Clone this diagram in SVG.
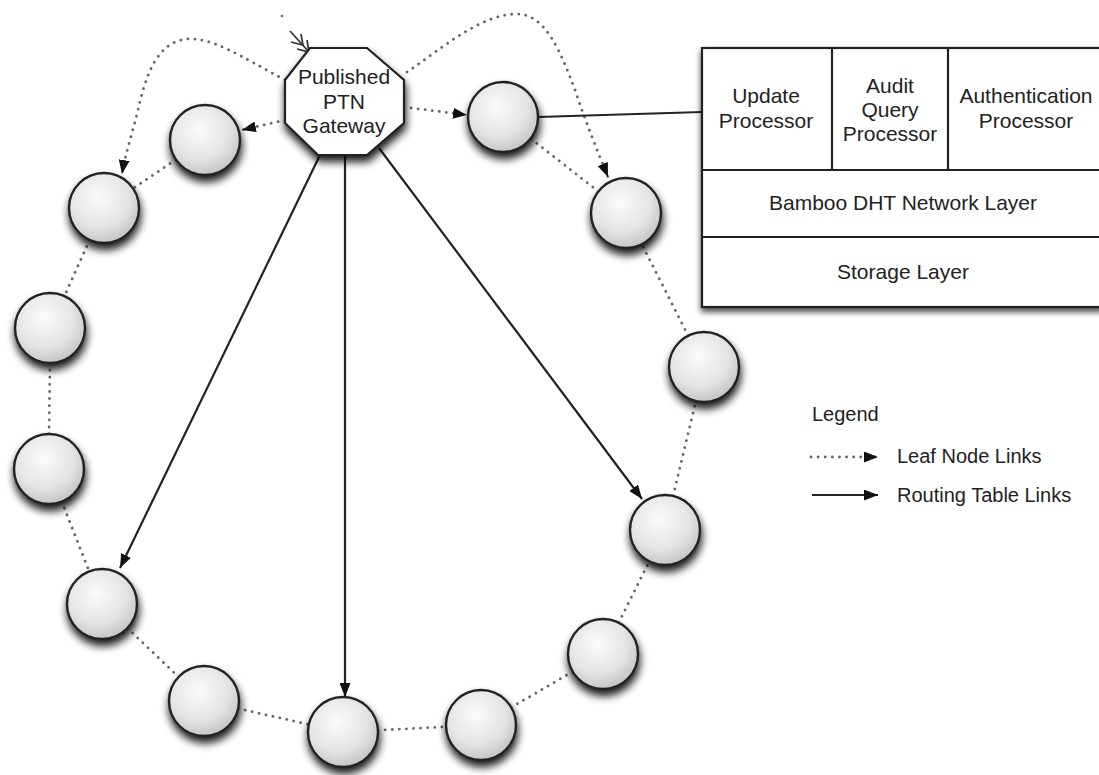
<svg xmlns="http://www.w3.org/2000/svg" width="1099" height="775" viewBox="0 0 1099 775">
  <style>
    .txt { font-family: "Liberation Sans", Arial, sans-serif; font-size: 21px; fill: #222; text-anchor: middle; }
    .leg { font-family: "Liberation Sans", Arial, sans-serif; font-size: 20px; fill: #222; }
    .node { fill: url(#ball); stroke: #222; stroke-width: 2.4; filter: url(#shade); }
    .leaf { fill: none; stroke: #666; stroke-width: 2.8; stroke-dasharray: 0.1 7; stroke-linecap: round; }
    .route { fill: none; stroke: #222; stroke-width: 2.2; }
    .box { fill: #fff; stroke: #222; stroke-width: 2.2; }
    .rule { stroke: #222; stroke-width: 2.2; }
  </style>
  <defs>
    <radialGradient id="ball" cx="0.42" cy="0.35" r="0.7">
      <stop offset="0" stop-color="#fbfbfb"/>
      <stop offset="0.6" stop-color="#e4e4e4"/>
      <stop offset="1" stop-color="#c0c0c0"/>
    </radialGradient>
    <filter id="shade" x="-40%" y="-40%" width="180%" height="190%">
      <feGaussianBlur in="SourceAlpha" stdDeviation="4.5"/>
      <feOffset dx="1" dy="6" result="b"/>
      <feComponentTransfer><feFuncA type="linear" slope="0.9"/></feComponentTransfer>
      <feMerge><feMergeNode/><feMergeNode in="SourceGraphic"/></feMerge>
    </filter>
    <filter id="boxshade" x="-10%" y="-10%" width="120%" height="130%">
      <feGaussianBlur in="SourceAlpha" stdDeviation="3"/>
      <feOffset dx="0" dy="4"/>
      <feComponentTransfer><feFuncA type="linear" slope="0.7"/></feComponentTransfer>
      <feMerge><feMergeNode/><feMergeNode in="SourceGraphic"/></feMerge>
    </filter>
    <marker id="head" viewBox="0 0 14 11" refX="14" refY="5.5" markerWidth="14" markerHeight="11" markerUnits="userSpaceOnUse" orient="auto">
      <path d="M0,0 L14,5.5 L0,11 Z" fill="#111"/>
    </marker>
  </defs>
  <rect width="1099" height="775" fill="#fff"/>

  <!-- connectors -->
  <g id="connectors">
    <!-- leaf links around the ring -->
    <line class="leaf" x1="176" y1="159.5" x2="133" y2="188.5"/>
    <line class="leaf" x1="89.6" y1="239.9" x2="64.4" y2="296.1"/>
    <line class="leaf" x1="50" y1="363" x2="49" y2="434"/>
    <line class="leaf" x1="61.8" y1="501.6" x2="89.2" y2="571.4"/>
    <line class="leaf" x1="127.4" y1="628.1" x2="178.6" y2="676.9"/>
    <line class="leaf" x1="238.2" y1="708.6" x2="308.8" y2="724.4"/>
    <line class="leaf" x1="378" y1="730.2" x2="446" y2="726.8"/>
    <line class="leaf" x1="511.2" y1="707.4" x2="572.8" y2="671.6"/>
    <line class="leaf" x1="618.7" y1="622.7" x2="649.3" y2="561.3"/>
    <line class="leaf" x1="673.1" y1="496" x2="695.9" y2="401.1"/>
    <line class="leaf" x1="688.2" y1="335.8" x2="641.8" y2="244.2"/>
    <line class="leaf" x1="598.4" y1="191.5" x2="530.6" y2="138.5"/>
    <!-- leaf links from the gateway -->
    <line class="leaf" x1="285" y1="120" x2="242" y2="130" marker-end="url(#head)"/>
    <line class="leaf" x1="404" y1="107" x2="467" y2="115" marker-end="url(#head)"/>
    <path class="leaf" d="M285,80 C240,56 212,37 187,39 C155,42 145,80 138,110 C132,135 125,155 122,174" marker-end="url(#head)"/>
    <path class="leaf" d="M407,72 C440,50 480,14 517,14 C545,14 560,50 575,90 C585,120 597,150 608,177" marker-end="url(#head)"/>
    <!-- routing table links -->
    <line class="route" x1="320" y1="155" x2="120" y2="568" marker-end="url(#head)"/>
    <line class="route" x1="345" y1="155" x2="345" y2="697" marker-end="url(#head)"/>
    <line class="route" x1="379" y1="148" x2="642" y2="499" marker-end="url(#head)"/>
    <!-- node to its processing stack -->
    <line class="route" x1="538" y1="117" x2="702" y2="112"/>
    <!-- entry mark on the gateway -->
    <g stroke="#333" stroke-width="1.7" fill="none">
      <line x1="290" y1="31" x2="309" y2="52"/>
      <polyline points="307,40 309,52 297,49"/>
      <polyline points="301,34 303,45 291,42"/>
    </g>
    <circle cx="282" cy="16" r="1.3" fill="#666"/>
  </g>

  <!-- gateway -->
  <g id="gateway">
    <polygon class="box" points="310,48 367,48 404,80 404,123 367,155 318,155 285,123 285,80" filter="url(#shade)"/>
    <text class="txt" x="344" y="84">Published</text>
    <text class="txt" x="344" y="109">PTN</text>
    <text class="txt" x="344" y="133">Gateway</text>
  </g>

  <!-- ring nodes -->
  <g id="node-a"><circle class="node" cx="205" cy="140" r="35"/></g>
  <g id="node-b"><circle class="node" cx="503" cy="117" r="35"/></g>
  <g id="node-c"><circle class="node" cx="626" cy="213" r="35"/></g>
  <g id="node-d"><circle class="node" cx="704" cy="367" r="35"/></g>
  <g id="node-e"><circle class="node" cx="665" cy="530" r="35"/></g>
  <g id="node-f"><circle class="node" cx="603" cy="654" r="35"/></g>
  <g id="node-g"><circle class="node" cx="481" cy="725" r="35"/></g>
  <g id="node-h"><circle class="node" cx="343" cy="732" r="35"/></g>
  <g id="node-i"><circle class="node" cx="204" cy="701" r="35"/></g>
  <g id="node-j"><circle class="node" cx="102" cy="604" r="35"/></g>
  <g id="node-k"><circle class="node" cx="49" cy="469" r="35"/></g>
  <g id="node-l"><circle class="node" cx="50" cy="328" r="35"/></g>
  <g id="node-m"><circle class="node" cx="104" cy="208" r="35"/></g>

  <!-- processing stack -->
  <g id="stack">
    <rect class="box" x="702" y="48" width="402" height="259" filter="url(#boxshade)"/>
    <line class="rule" x1="702" y1="170" x2="1104" y2="170"/>
    <line class="rule" x1="702" y1="237" x2="1104" y2="237"/>
    <line class="rule" x1="832" y1="48" x2="832" y2="170"/>
    <line class="rule" x1="948" y1="48" x2="948" y2="170"/>
    <text class="txt" x="766" y="103">Update</text>
    <text class="txt" x="766" y="128">Processor</text>
    <text class="txt" x="890" y="93">Audit</text>
    <text class="txt" x="890" y="117">Query</text>
    <text class="txt" x="890" y="141">Processor</text>
    <text class="txt" x="1026" y="103">Authentication</text>
    <text class="txt" x="1026" y="128">Processor</text>
    <text class="txt" x="903" y="210">Bamboo DHT Network Layer</text>
    <text class="txt" x="903" y="279">Storage Layer</text>
  </g>

  <!-- legend -->
  <g id="legend">
    <text class="leg" x="812" y="421">Legend</text>
    <line class="leaf" x1="811" y1="457" x2="878" y2="457" marker-end="url(#head)"/>
    <text class="leg" x="897" y="463">Leaf Node Links</text>
    <line class="route" x1="812" y1="495" x2="878" y2="495" marker-end="url(#head)"/>
    <text class="leg" x="897" y="502">Routing Table Links</text>
  </g>
</svg>
